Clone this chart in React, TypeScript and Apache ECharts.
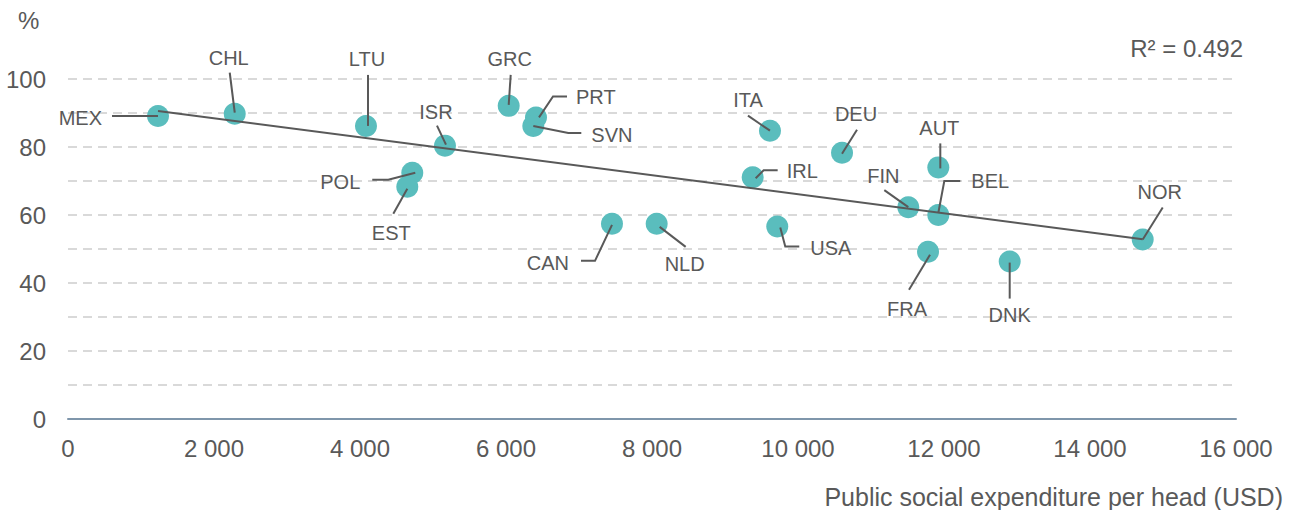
import React, { useEffect, useRef } from "react";
import * as echarts from "echarts";

const countries = ["MEX","CHL","LTU","ISR","POL","EST","GRC","PRT","SVN","ITA","DEU","IRL","AUT","FIN","BEL","NOR","FRA","DNK","CAN","NLD","USA"];
const spending = [1233,2284,4082,5164,4716,4648,6037,6411,6374,9616,10603,9379,11922,11511,11922,14722,11781,12900,7452,8064,9716];
const share = [89.1,89.8,86.2,80.4,72.4,68.3,92.1,88.7,86.2,84.8,78.3,71.1,74.0,62.3,60.0,52.8,49.2,46.3,57.4,57.4,56.6];
const trendX = [1233, 14722];
const trendY = [90.6, 52.9];
const xTicks = [0, 2000, 4000, 6000, 8000, 10000, 12000, 14000, 16000];
const yTicks = [0, 20, 40, 60, 80, 100];
const rSquared = "0.492";

// label placement (pixel offsets from the dot centre)
const placement: Record<string, { line: number[][]; dx: number; dy: number; align: string }> = {
  MEX: { line: [[0, 0], [-46, 0]], dx: -56, dy: 2, align: "right" },
  CHL: { line: [[0, -1], [-5, -41]], dx: -6, dy: -56, align: "center" },
  LTU: { line: [[2, 0], [2, -51]], dx: 1, dy: -67, align: "center" },
  ISR: { line: [[1, -1], [-8, -20]], dx: -9, dy: -34, align: "center" },
  POL: { line: [[3, 0], [-24, 7], [-40, 7]], dx: -52, dy: 9, align: "right" },
  EST: { line: [[0, 2], [-14, 27]], dx: -16, dy: 46, align: "center" },
  GRC: { line: [[0, -1], [2, -31]], dx: 1, dy: -47, align: "center" },
  PRT: { line: [[3, 0], [17, -21], [31, -21]], dx: 40, dy: -20, align: "left" },
  SVN: { line: [[0, 0], [35, 7], [48, 7]], dx: 58, dy: 9, align: "left" },
  ITA: { line: [[0, 0], [-22, -15]], dx: -22, dy: -31, align: "center" },
  DEU: { line: [[0, 1], [15, -23]], dx: 14, dy: -39, align: "center" },
  IRL: { line: [[3, 1], [11, -7], [25, -7]], dx: 34, dy: -6, align: "left" },
  AUT: { line: [[2, 1], [2, -24]], dx: 1, dy: -39, align: "center" },
  FIN: { line: [[0, 0], [-24, -17]], dx: -25, dy: -31, align: "center" },
  BEL: { line: [[0, -2], [6, -34], [22, -34]], dx: 33, dy: -34, align: "left" },
  NOR: { line: [[0, 0], [20, -32]], dx: 17, dy: -47, align: "center" },
  FRA: { line: [[2, 3], [-19, 38]], dx: -21, dy: 57, align: "center" },
  DNK: { line: [[0, 1], [0, 37]], dx: 0, dy: 53, align: "center" },
  CAN: { line: [[0, 1], [-17, 37], [-31, 37]], dx: -43, dy: 39, align: "right" },
  NLD: { line: [[3, 3], [29, 23]], dx: 28, dy: 40, align: "center" },
  USA: { line: [[3, 1], [8, 20], [22, 20]], dx: 33, dy: 21, align: "left" },
};

const FONT = "'Liberation Sans', Arial, sans-serif";
const TEXT = "#595959";

export default function App() {
  const ref = useRef<HTMLDivElement>(null);
  useEffect(() => {
    if (!ref.current) return;
    const chart = echarts.init(ref.current, undefined, { renderer: "svg" });
    const points = countries.map((c, i) => [spending[i], share[i], i]);
    chart.setOption({
      animation: false,
      grid: { left: 68, top: 79, width: 1168, height: 340, containLabel: false },
      xAxis: {
        type: "value",
        min: xTicks[0],
        max: xTicks[xTicks.length - 1],
        interval: 2000,
        axisLine: { show: true, lineStyle: { color: "#7F96AB", width: 2 } },
        axisTick: { show: false },
        splitLine: { show: false },
        axisLabel: {
          margin: 17,
          color: TEXT,
          fontSize: 24,
          fontFamily: FONT,
          formatter: (v: number) => v.toLocaleString("en-US").replace(/,/g, " "),
        },
      },
      yAxis: {
        type: "value",
        min: 0,
        max: 100,
        interval: 10,
        axisLine: { show: false },
        axisTick: { show: false },
        splitLine: { show: true, lineStyle: { color: "#D9D9D9", type: [9, 6], width: 2 } },
        axisLabel: {
          margin: 22,
          color: TEXT,
          fontSize: 24,
          fontFamily: FONT,
          formatter: (v: number) => (yTicks.indexOf(v) >= 0 ? String(v) : ""),
        },
      },
      graphic: [
        { type: "text", left: 18, top: 8, style: { text: "%", fill: TEXT, font: `24px ${FONT}` } },
        {
          type: "text", right: 55, top: 36,
          style: { text: `R² = ${rSquared}`, fill: TEXT, font: `24px ${FONT}` },
        },
        {
          type: "text", right: 15, top: 484,
          style: { text: "Public social expenditure per head (USD)", fill: TEXT, font: `25px ${FONT}` },
        },
      ],
      series: [
        {
          type: "scatter",
          data: points,
          symbolSize: 22,
          itemStyle: { color: "#5ABDBD", opacity: 1 },
          z: 2,
        },
        {
          type: "line",
          data: trendX.map((x, i) => [x, trendY[i]]),
          symbol: "none",
          lineStyle: { color: "#595959", width: 2 },
          z: 3,
        },
        {
          type: "custom",
          data: points,
          z: 4,
          renderItem: (params: any, api: any) => {
            const i = api.value(2);
            const name = countries[i];
            const p = placement[name];
            const c = api.coord([api.value(0), api.value(1)]);
            return {
              type: "group",
              children: [
                {
                  type: "polyline",
                  shape: { points: p.line.map((q) => [c[0] + q[0], c[1] + q[1]]) },
                  style: { stroke: "#595959", lineWidth: 2, fill: null },
                },
                {
                  type: "text",
                  x: c[0] + p.dx,
                  y: c[1] + p.dy,
                  style: {
                    text: name,
                    fill: TEXT,
                    font: `20px ${FONT}`,
                    align: p.align,
                    verticalAlign: "middle",
                  },
                },
              ],
            };
          },
        },
      ],
    });
    return () => chart.dispose();
  }, []);
  return (
    <div
      ref={ref}
      style={{ position: "fixed", left: 0, top: 0, width: 1298, height: 510, background: "#fff" }}
    />
  );
}
